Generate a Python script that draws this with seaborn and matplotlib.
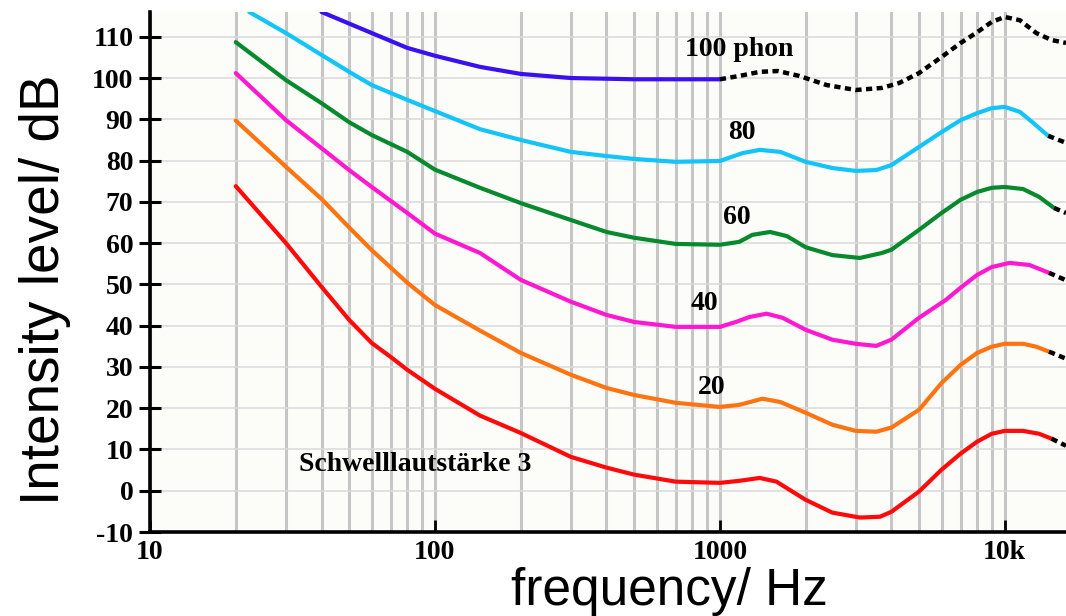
import seaborn as sns
import matplotlib.pyplot as plt
import matplotlib.ticker as mticker
import pandas as pd
import numpy as np

# Equal-loudness contours (frequency in Hz, level in dB)
f_0 = [20, 30, 40, 50, 60, 70, 80, 100, 144, 200, 300, 400, 500, 700, 1000, 1170, 1380, 1580,
       2000, 2480, 3100, 3650, 4000, 5000, 6000, 7000, 8000, 9000, 10000, 11600, 13200, 14600]
db_0 = [73.8, 60, 49.4, 41.4, 35.8, 32.4, 29.3, 24.7, 18.2, 14, 8.2, 5.6, 3.9, 2.2, 1.9, 2.4, 3.1, 2.2,
        -2.2, -5.3, -6.5, -6.3, -5.1, -0.2, 5.1, 9, 11.9, 13.8, 14.5, 14.5, 13.8, 12.6]

f_20 = [20, 30, 40, 50, 60, 80, 100, 144, 200, 300, 400, 500, 700, 1000, 1170, 1410, 1630,
        2000, 2480, 3000, 3540, 4000, 5000, 6000, 7000, 8000, 9000, 10000, 11600, 12900, 14300]
db_20 = [89.7, 78.5, 70.7, 63.8, 58.3, 50.4, 45, 38.8, 33.4, 28.1, 24.9, 23.2, 21.3, 20.3, 20.8, 22.3, 21.5,
         18.9, 16, 14.5, 14.3, 15.3, 19.6, 26.1, 30.5, 33.4, 34.9, 35.6, 35.6, 34.9, 33.7]

f_40 = [20, 30, 40, 50, 60, 80, 100, 144, 200, 300, 400, 500, 700, 1000, 1140, 1270, 1460, 1660,
        2000, 2480, 3000, 3540, 4000, 5000, 6200, 7000, 8000, 9000, 10400, 12200, 14300]
db_40 = [101.2, 89.8, 83, 77.7, 73.6, 67.3, 62.3, 57.6, 51.1, 45.8, 42.6, 40.9, 39.7, 39.7, 40.9, 42.1, 42.9, 41.9,
         39, 36.6, 35.6, 35.1, 36.6, 41.9, 46.2, 49.2, 52.3, 54.2, 55.2, 54.7, 52.8]

f_60 = [20, 30, 40, 50, 60, 80, 100, 144, 200, 300, 400, 500, 700, 1000, 1170, 1300, 1500, 1720,
        2000, 2480, 3100, 3700, 4000, 5000, 6000, 7000, 8000, 9000, 10000, 11600, 13200, 14900]
db_60 = [108.7, 99.5, 93.9, 89.3, 86.2, 82.1, 77.8, 73.4, 69.7, 65.6, 62.7, 61.3, 59.8, 59.6, 60.3, 62, 62.7, 61.7,
         59, 57.1, 56.4, 57.6, 58.4, 63.2, 67.3, 70.5, 72.4, 73.4, 73.6, 73.1, 71.2, 68.5]

f_80 = [22.3, 30, 40, 50, 60, 80, 100, 144, 200, 300, 400, 500, 700, 1000, 1200, 1380, 1630,
        2000, 2480, 3000, 3540, 4000, 5000, 6000, 7000, 8000, 9000, 10000, 11300, 12500, 14200]
db_80 = [116, 110.9, 105.6, 101.5, 98.3, 94.7, 92, 87.6, 85, 82.1, 81.1, 80.4, 79.7, 79.9, 81.8, 82.6, 82.1,
         79.7, 78.2, 77.5, 77.7, 78.9, 83.3, 86.9, 89.8, 91.5, 92.7, 93, 91.8, 89.3, 86]

f_100 = [40, 60, 80, 100, 144, 200, 300, 500, 1000]
db_100 = [116, 110.9, 107.3, 105.4, 102.7, 101, 100, 99.7, 99.7]

# dotted (extrapolated) parts
f_100x = [1000, 1170, 1380, 1600, 1900, 2370, 3000, 3700, 4260, 5000, 6000, 7000, 8000, 9000,
          10000, 11300, 12900, 14600, 16400]
db_100x = [99.7, 100.5, 101.5, 101.7, 100.5, 98.3, 97.1, 97.6, 98.8, 101.2, 105.1, 108.5, 111.1, 113.6,
           114.8, 114, 110.9, 109.2, 108.5]
stub_f = {"80": [14200, 16400], "60": [14900, 16400], "40": [14300, 16400],
          "20": [14300, 16400], "0": [14600, 16400]}
stub_db = {"80": [86, 84.3], "60": [68.5, 67.3], "40": [52.8, 51],
           "20": [33.7, 32], "0": [12.6, 10.9]}

curves = {"0": (f_0, db_0), "20": (f_20, db_20), "40": (f_40, db_40),
          "60": (f_60, db_60), "80": (f_80, db_80), "100": (f_100, db_100)}
colors = {"0": "#ff0a0a", "20": "#ff7410", "40": "#ff18d2", "60": "#078a2e",
          "80": "#12c4f8", "100": "#3a10f0"}

rows = []
for name, (fs, dbs) in curves.items():
    rows += [(f, d, name) for f, d in zip(fs, dbs)]
df = pd.DataFrame(rows, columns=["freq", "level", "curve"])

dot_rows = [(f, d, "100") for f, d in zip(f_100x, db_100x)]
for name in stub_f:
    dot_rows += [(f, d, name) for f, d in zip(stub_f[name], stub_db[name])]
df_dot = pd.DataFrame(dot_rows, columns=["freq", "level", "curve"])

sns.set_style("ticks")
plt.rcParams["font.family"] = ["Liberation Serif", "DejaVu Serif"]
plt.rcParams["font.weight"] = "bold"
plt.rcParams["text.color"] = "black"
plt.rcParams["axes.unicode_minus"] = False

fig = plt.figure(figsize=(10.66, 6.16), dpi=100)
ax = fig.add_axes([150 / 1066, 84 / 616, 916 / 1066, 520 / 616])
ax.set_facecolor("#fcfcf9")
ax.set_xscale("log")

sns.lineplot(data=df, x="freq", y="level", hue="curve", palette=colors, units="curve",
             estimator=None, sort=False, lw=3, legend=False, ax=ax,
             solid_joinstyle="round", solid_capstyle="round")
sns.lineplot(data=df_dot, x="freq", y="level", units="curve", estimator=None, sort=False,
             color="black", lw=3.2, linestyle=(0, (1.4, 1.0)), legend=False, ax=ax)

ax.set_xlim(10, 16400)
ax.set_ylim(-10, 116)
ax.set_xticks([10, 100, 1000, 10000])
ax.set_xticklabels(["10", "100", "1000", "10k"])
ax.xaxis.set_minor_locator(mticker.LogLocator(base=10, subs=np.arange(2, 10)))
ax.xaxis.set_minor_formatter(mticker.NullFormatter())
ax.set_yticks(range(-10, 111, 10))

ax.set_axisbelow(True)
ax.grid(which="both", axis="x", color="#c6c6c6", lw=2.2)
ax.grid(which="major", axis="y", color="#dadada", lw=1.1)

for s in ["top", "right"]:
    ax.spines[s].set_visible(False)
for s in ["left", "bottom"]:
    ax.spines[s].set_color("black")
    ax.spines[s].set_linewidth(2.6)

ax.tick_params(axis="y", direction="inout", length=16, width=2.2, pad=4, labelsize=20,
               colors="black")
ax.tick_params(axis="x", which="major", direction="in", length=9, width=2, pad=6, labelsize=20,
               colors="black")
ax.tick_params(axis="x", which="minor", length=0)
ax.set_xlabel("")
ax.set_ylabel("")

# curve labels
lab_kw = dict(fontsize=20, fontweight="bold", ha="center", va="center", color="black")
ax.text(1167, 107, "100 phon", **lab_kw)
ax.text(1195, 86.9, "80", **lab_kw)
ax.text(1148, 66.3, "60", **lab_kw)
ax.text(886, 45.3, "40", **lab_kw)
ax.text(937, 24.9, "20", **lab_kw)
ax.text(85, 6.3, "Schwelllautstärke 3", **lab_kw)

# axis titles
fig.text(669 / 1066, 1 - 591 / 616, "frequency/ Hz", family=["Liberation Sans", "DejaVu Sans"],
         fontweight="normal", fontsize=37, ha="center", va="center", color="black")
fig.text(45 / 1066, 1 - 290 / 616, "Intensity level/ dB", family=["Liberation Sans", "DejaVu Sans"],
         fontweight="normal", fontsize=39.5, ha="center", va="center", rotation=90, color="black")

plt.savefig("out.png", dpi=100, facecolor="white")
